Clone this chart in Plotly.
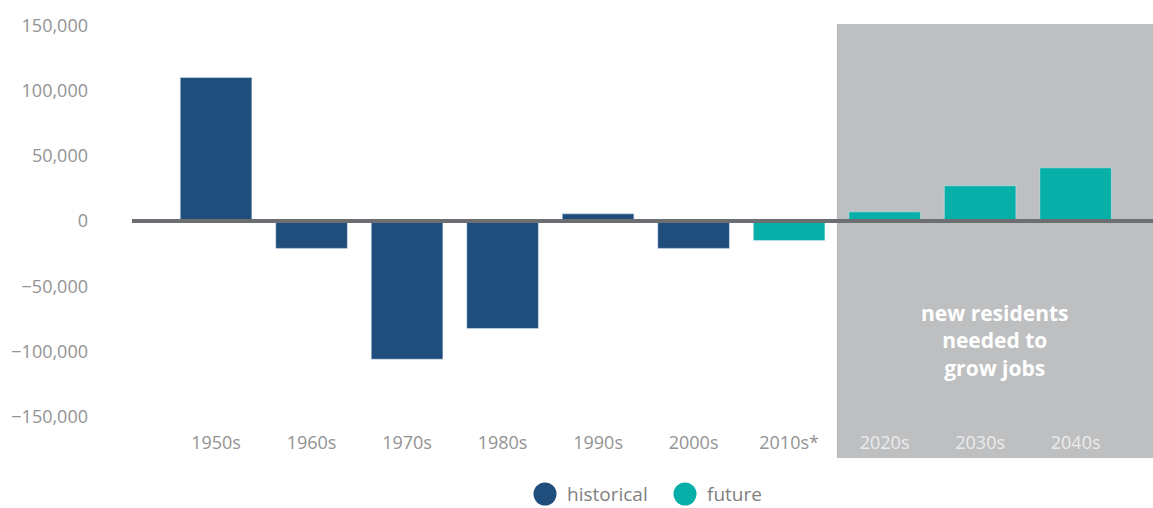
import plotly.graph_objects as go

# ---------------------------------------------------------------
# data
# ---------------------------------------------------------------
decades = ['1950s', '1960s', '1970s', '1980s', '1990s',
           '2000s', '2010s*', '2020s', '2030s', '2040s']
historical = [110000, -21000, -106000, -82500, 5500, -21000, None, None, None, None]
future = [None, None, None, None, None, None, -15000, 7000, 27000, 40800]
y_ticks = [150000, 100000, 50000, 0, -50000, -100000, -150000]
y_labels = ['150,000', '100,000', '50,000', '0', '\u221250,000', '\u2212100,000', '\u2212150,000']
legend_names = ['historical', 'future']
note_text = 'new residents<br>needed to<br>grow jobs'

# ---------------------------------------------------------------
# style
# ---------------------------------------------------------------
BLUE = '#1f4e7d'
TEAL = '#06b0a8'
SHADE = '#bebfc1'
ZERO = '#6d6e71'
LABEL = '#939393'
FONT = 'Open Sans'

X_RANGE = [-0.88, 9.81]
Y_RANGE = [-160276, 151074]
SHADE_START = 6.5  # between 2010s* and 2020s

PLOT_W = 1021
PLOT_H = 406

# tick labels in the shaded part are light
tick_text = []
for i, d in enumerate(decades):
  if i >= 7:
    tick_text.append('<span style="color:#ececec">%s</span>' % d)
  else:
    tick_text.append(d)

fig = go.Figure()
fig.add_trace(go.Bar(x=list(range(len(decades))), y=historical, marker_color=BLUE,
                     name=legend_names[0], showlegend=False))
fig.add_trace(go.Bar(x=list(range(len(decades))), y=future, marker_color=TEAL,
                     name=legend_names[1], showlegend=False))

shade_x0 = (SHADE_START - X_RANGE[0]) / (X_RANGE[1] - X_RANGE[0])

fig.add_shape(type='rect', xref='paper', yref='paper', x0=shade_x0, x1=1,
              y0=-28 / PLOT_H, y1=1, fillcolor=SHADE, line_width=0, layer='below')
fig.add_shape(type='line', xref='paper', yref='y', x0=0, x1=1, y0=0, y1=0,
              line=dict(color=ZERO, width=4), layer='above')

fig.add_annotation(text='<b>' + note_text + '</b>', xref='x', yref='y',
                   x=(SHADE_START + X_RANGE[1]) / 2, y=-92000, showarrow=False,
                   font=dict(family=FONT, size=21, color='#ffffff'), align='center')

# hand-made legend with big round swatches
legend_colors = [BLUE, TEAL]
legend_px = [545 - 132, 685 - 132]  # offsets from the plot's left edge
for name, col, px in zip(legend_names, legend_colors, legend_px):
  xc = px / PLOT_W
  yc = -64 / PLOT_H
  fig.add_shape(type='circle', xref='paper', yref='paper', xsizemode='pixel', ysizemode='pixel',
                xanchor=xc, yanchor=yc, x0=-11.5, x1=11.5, y0=-11.5, y1=11.5,
                fillcolor=col, line_width=0)
  fig.add_annotation(text=name, xref='paper', yref='paper', x=xc + 20 / PLOT_W, y=yc,
                     xanchor='left', yanchor='middle', showarrow=False,
                     font=dict(family=FONT, size=19, color='#7f7f7f'))

fig.update_layout(
  width=1153, height=508,
  margin=dict(l=132, r=0, t=24, b=78),
  plot_bgcolor='white', paper_bgcolor='white',
  barmode='overlay', bargap=0.25,
  showlegend=False,
  font=dict(family=FONT, size=18, color=LABEL),
)
fig.update_xaxes(range=X_RANGE, tickmode='array', tickvals=list(range(len(decades))),
                 ticktext=tick_text, showgrid=False, zeroline=False, showline=False,
                 ticks='', tickfont=dict(size=18, color=LABEL))
fig.update_yaxes(range=Y_RANGE, tickmode='array', tickvals=y_ticks, ticktext=y_labels,
                 showgrid=False, zeroline=False, showline=False, ticks='',
                 ticklabelstandoff=43, tickfont=dict(size=18, color=LABEL))

# drop the page's default body margin so the figure sits at the window corner
fig.write_html('out.html', config={'displayModeBar': False},
               post_script="document.body.style.margin='0';")
